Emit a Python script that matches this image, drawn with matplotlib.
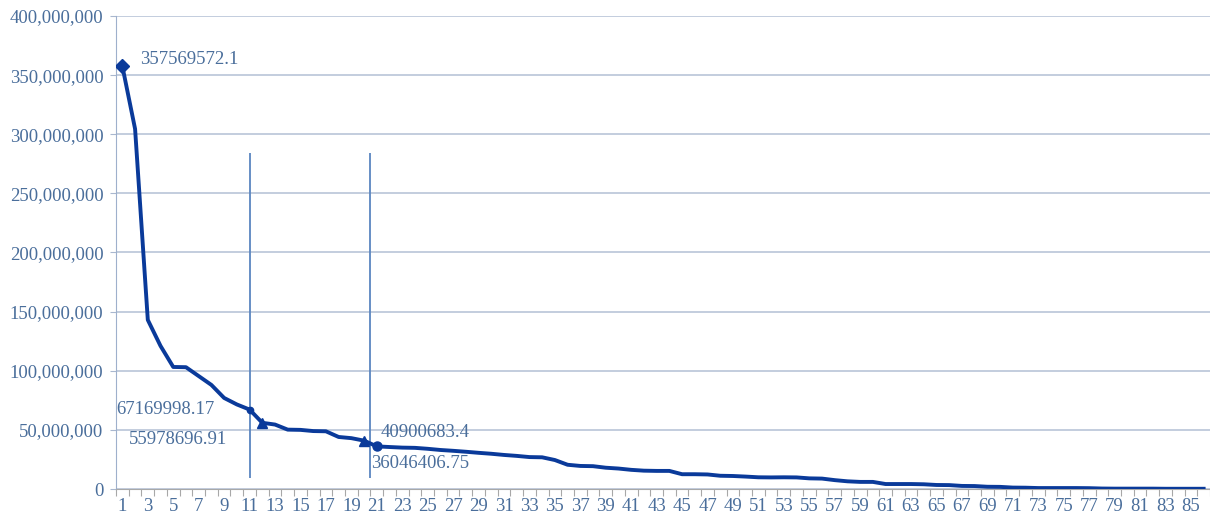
import numpy as np
import matplotlib
matplotlib.use("Agg")
import matplotlib.pyplot as plt
from matplotlib.ticker import FuncFormatter, MultipleLocator

plt.rcParams['font.family'] = ['Liberation Serif', 'DejaVu Serif']

# values in millions, rank 1..86
values_m = [357.569572, 304.5, 143.0, 121.0, 103.2, 103.0, 95.5, 88.0, 77.0, 71.5,
            67.169998, 55.978697, 54.5, 50.2, 50.0, 49.0, 48.8, 44.0, 43.0, 40.900683,
            36.046407, 35.5, 35.0, 34.8, 34.0, 33.0, 32.3, 31.5, 30.6, 29.8,
            28.8, 28.0, 27.0, 26.8, 24.5, 20.5, 19.5, 19.3, 18.0, 17.3,
            16.2, 15.5, 15.3, 15.3, 12.5, 12.5, 12.3, 11.2, 11.0, 10.5,
            9.9, 9.8, 9.9, 9.8, 9.0, 8.8, 7.5, 6.5, 6.0, 6.0,
            4.2, 4.2, 4.2, 4.0, 3.4, 3.3, 2.6, 2.5, 1.9, 1.8,
            1.2, 1.1, 0.8, 0.8, 0.8, 0.8, 0.7, 0.4, 0.3, 0.3,
            0.3, 0.3, 0.2, 0.2, 0.2, 0.2]
ranks = np.arange(1, len(values_m) + 1)
values = np.array(values_m) * 1e6

# labelled points: (rank, label, marker, offset px, ha)
marks = [
    (1, "357569572.1", "D", (18, 7), "left"),
    (11, "67169998.17", "o", (-35, 0), "right"),
    (12, "55978696.91", "^", (-35, -17), "right"),
    (20, "40900683.4", "^", (17, 8), "left"),
    (21, "36046406.75", "o", (-6, -17), "left"),
]
msize = {1: 7, 11: 4.5, 12: 7, 20: 7, 21: 6.5}
cut_lines = [11, 20.5]
cut_low, cut_high = 9.3e6, 284e6

txt = "#4A6E9B"
line_col = "#0A3A9A"

fig = plt.figure(figsize=(12.1, 5.16), dpi=100)
ax = fig.add_axes([116 / 1210, 27 / 516, 1 - 116 / 1210, (489 - 16) / 516])

ax.plot(ranks, values, color=line_col, lw=2.8, zorder=3, solid_joinstyle='round')

for r, lab, m, off, ha in marks:
    ax.plot(r, values[r - 1], marker=m, color=line_col, ms=msize[r], zorder=4)
    ax.annotate(lab, (r, values[r - 1]), xytext=off, textcoords='offset pixels',
                ha=ha, va='center', fontsize=13.5, color=txt)

ax.vlines(cut_lines, cut_low, cut_high, color="#5B86C0", lw=1.3, zorder=2)

ax.set_xlim(0.5, len(ranks) + 0.5)
ax.set_ylim(0, 400e6)
ax.yaxis.set_major_locator(MultipleLocator(50e6))
ax.yaxis.set_major_formatter(FuncFormatter(lambda v, p: f"{int(v):,}"))
ax.set_xticks(ranks[::2])
ax.set_xticks(np.arange(0.5, len(ranks) + 1, 1), minor=True)
ax.tick_params(axis='x', which='major', length=0, pad=6.5, labelsize=13.5, labelcolor=txt)
ax.tick_params(axis='x', which='minor', length=5, color="#A8A8A8", width=0.8)
ax.tick_params(axis='y', length=4, color="#A9B7CF", pad=5, labelsize=13.5, labelcolor=txt)

ax.grid(axis='y', color="#B9C5D8", lw=1.2)
ax.set_axisbelow(True)
for s in ['top', 'right']:
    ax.spines[s].set_visible(False)
ax.spines['left'].set_color("#9EB0CC")
ax.spines['bottom'].set_color("#A8A8A8")

fig.savefig("out.png", dpi=100)
